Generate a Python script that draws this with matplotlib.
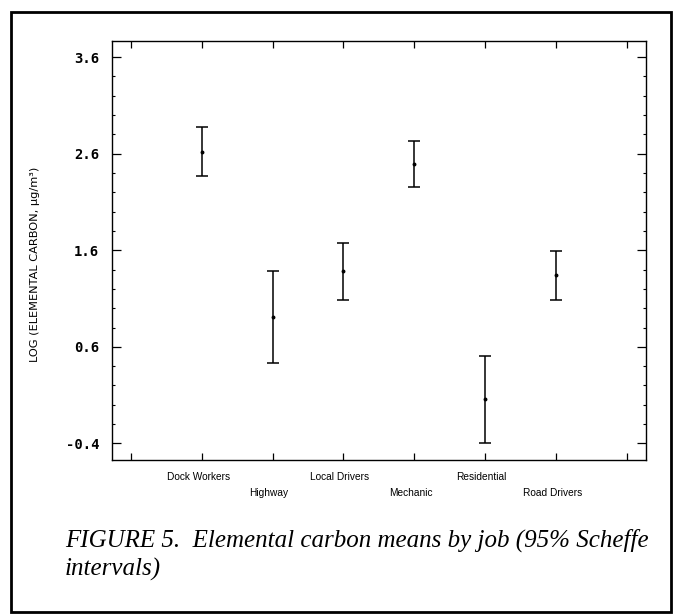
import matplotlib
matplotlib.use("Agg")
import matplotlib.pyplot as plt
from matplotlib.patches import Rectangle
from matplotlib.ticker import MultipleLocator, FixedLocator
import matplotlib.transforms as mtransforms

# Log elemental carbon means by job with 95% Scheffe intervals
jobs = ["Dock Workers", "Highway", "Local Drivers", "Mechanic", "Residential", "Road Drivers"]
means = [2.62, 0.91, 1.38, 2.49, 0.06, 1.34]
lower = [2.37, 0.43, 1.08, 2.25, -0.40, 1.08]
upper = [2.88, 1.39, 1.67, 2.73, 0.51, 1.59]
ytick_values = [-0.4, 0.6, 1.6, 2.6, 3.6]
ytick_labels = ["-0.4", "0.6", "1.6", "2.6", "3.6"]

fig = plt.figure(figsize=(6.75, 6.16), dpi=100)
fig.patch.set_facecolor("white")

# outer frame around figure and caption
fig.add_artist(Rectangle((11 / 675, 1 - 612 / 616), 660 / 675, 600 / 616,
                         transform=fig.transFigure, fill=False,
                         edgecolor="black", linewidth=2.0))

ax = fig.add_axes([0.1655, 0.2532, 0.7915, 0.6802])
xpos = list(range(1, len(jobs) + 1))
yerr = [[m - lo for m, lo in zip(means, lower)],
        [hi - m for m, hi in zip(means, upper)]]
ax.errorbar(xpos, means, yerr=yerr, fmt="o", color="black", markersize=1.8,
            ecolor="black", elinewidth=1.1, capsize=4.2, capthick=1.1)

ax.set_xlim(-0.27, 7.27)
ax.set_ylim(-0.572, 3.766)
ax.xaxis.set_major_locator(FixedLocator(list(range(0, 8))))
ax.set_xticklabels([])
ax.yaxis.set_major_locator(FixedLocator(ytick_values))
ax.yaxis.set_minor_locator(MultipleLocator(0.2))
ax.set_yticklabels(ytick_labels, family="DejaVu Sans Mono", fontweight="bold",
                   fontsize=10)

ax.tick_params(axis="y", which="major", direction="in", length=6.5, width=0.9,
               left=True, right=True, pad=9)
ax.tick_params(axis="y", which="minor", direction="in", length=2.2, width=0.8,
               left=True, right=True)
ax.tick_params(axis="x", which="major", direction="in", length=5, width=0.9,
               top=True, bottom=True)
for s in ax.spines.values():
    s.set_linewidth(1.0)
    s.set_color("black")

ax.set_ylabel("LOG (ELEMENTAL CARBON, µg/m³)", fontsize=8.2)
ax.yaxis.set_label_coords(-0.134, 0.468)

# staggered category labels under the axis
trans = mtransforms.blended_transform_factory(ax.transData, ax.transAxes)
for i, (x, name) in enumerate(zip(xpos, jobs)):
    yrow = -0.0406 if i % 2 == 0 else -0.0788
    ax.text(x - 0.05, yrow, name, transform=trans, ha="center", va="center",
            fontsize=7.3, family=["Liberation Sans Narrow", "Liberation Sans", "DejaVu Sans"])

fig.text(0.0963, 1 - 540 / 616,
         "FIGURE 5.  Elemental carbon means by job (95% Scheffe",
         fontsize=18.0, style="italic", family="Liberation Serif", va="center")
fig.text(0.0963, 1 - 569 / 616, "intervals)",
         fontsize=18.0, style="italic", family="Liberation Serif", va="center")

fig.savefig("out.png", dpi=100)
